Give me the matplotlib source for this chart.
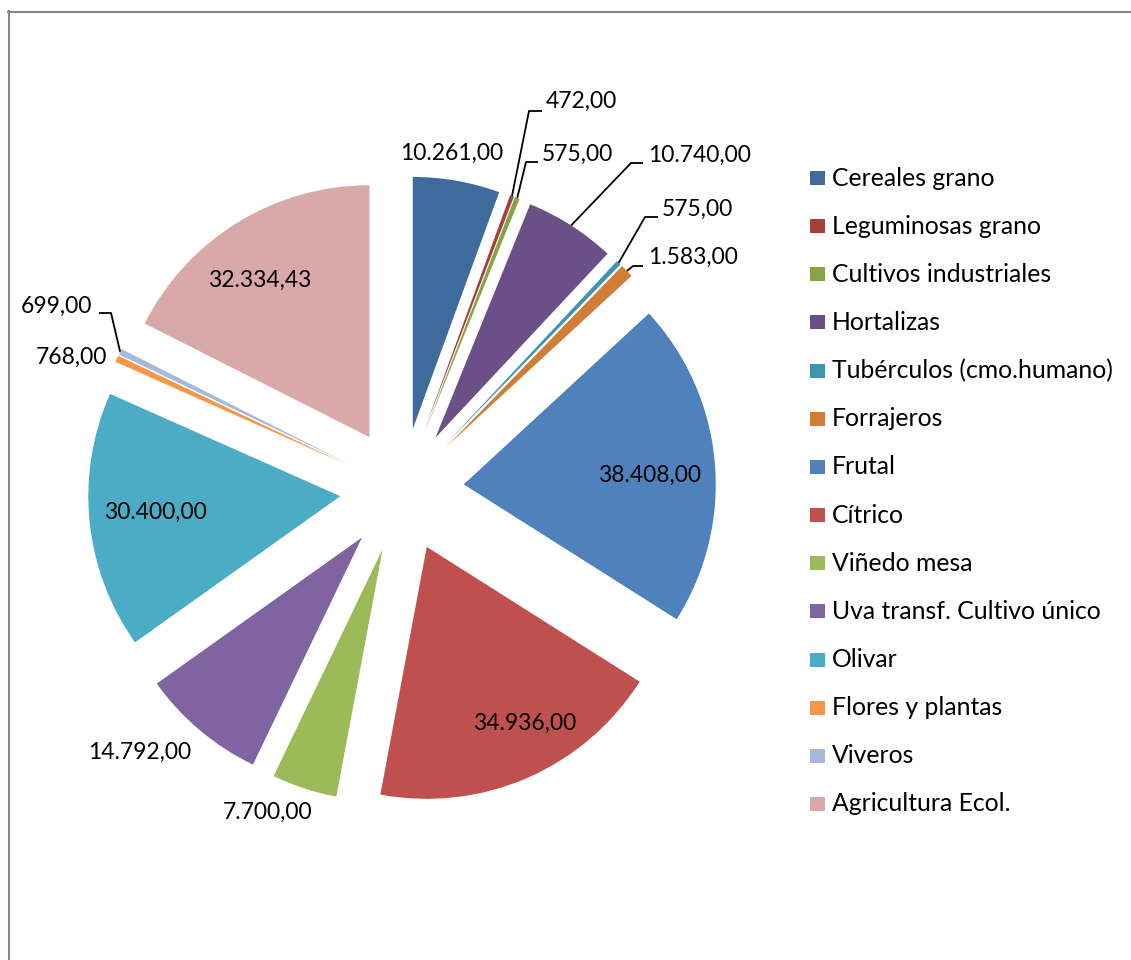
import matplotlib
matplotlib.use("Agg")
import matplotlib.pyplot as plt
from matplotlib.patches import Rectangle
from matplotlib.lines import Line2D
import numpy as np

categories = ["Cereales grano", "Leguminosas grano", "Cultivos industriales", "Hortalizas",
              "Tubérculos (cmo.humano)", "Forrajeros", "Frutal", "Cítrico", "Viñedo mesa",
              "Uva transf. Cultivo único", "Olivar", "Flores y plantas", "Viveros",
              "Agricultura Ecol."]
values = [10261.00, 472.00, 575.00, 10740.00, 575.00, 1583.00, 38408.00, 34936.00,
          7700.00, 14792.00, 30400.00, 768.00, 699.00, 32334.43]
colors = ["#3E6A9C", "#A5403D", "#85A446", "#6A5087", "#3D96AE", "#D07E36", "#4F81BD",
          "#C0504D", "#9BBB59", "#8064A2", "#4BACC6", "#F79646", "#A7B9D9", "#D9A9A9"]

W, H = 1131, 960
FONT = "Lato"
FS = 16.5
FS_LEG = 17.8

# label layout in pixels (x, y, ha), optional leader elbow points
label_layout = [
    (452, 153, "center", None),
    (546, 101, "left", [(529, 111), (542, 111)]),
    (542, 154, "left", [(526, 162), (538, 162)]),
    (648, 155, "left", [(631, 163), (643, 163)]),
    (662, 209, "left", [(645, 217), (658, 217)]),
    (648, 257, "left", [(633, 266), (643, 266)]),
    (650, 475, "center", None),
    (525, 723, "center", None),
    (268, 812, "center", None),
    (140, 752, "center", None),
    (155, 512, "center", None),
    (107, 357, "right", None),
    (92, 306, "right", [(111, 313), (99, 313)]),
    (260, 280, "center", None),
]


def fmt(v):
    s = f"{v:,.2f}"
    return s.replace(",", "X").replace(".", ",").replace("X", ".")


def px(x, y):
    return (x, H - y)


fig = plt.figure(figsize=(W / 100, H / 100), dpi=100, facecolor="white")
ax = fig.add_axes([0, 0, 1, 1])

radius = 252
center = px(402, 490)
explode = [62] * len(values)   # absolute offset in data (pixel) units
wedges, _ = ax.pie(values, colors=colors, startangle=90, counterclock=False,
                   explode=explode, radius=radius, center=center,
                   wedgeprops=dict(linewidth=0))
ax.set_xlim(0, W)
ax.set_ylim(0, H)
ax.set_aspect("auto")
ax.axis("off")

for w, v, (lx, ly, ha, elbow) in zip(wedges, values, label_layout):
    ax.text(*px(lx, ly), fmt(v), ha=ha, va="center", fontsize=FS, family=FONT, color="black")
    if elbow:
        th = np.deg2rad((w.theta1 + w.theta2) / 2)
        cx, cy = w.center
        start = (cx + w.r * np.cos(th), cy + w.r * np.sin(th))
        pts = [start] + [px(x, y) for x, y in elbow]
        xs, ys = zip(*pts)
        ax.plot(xs, ys, color="black", lw=1.3, solid_capstyle="butt")

# legend
for i, (name, c) in enumerate(zip(categories, colors)):
    y = 178 + i * 48.15
    ax.add_patch(Rectangle(px(810, y + 7), 15, 14, facecolor=c, edgecolor="none"))
    ax.text(*px(832, y), name, ha="left", va="center", fontsize=FS_LEG, family=FONT, color="black")

# chart border (left and top visible)
fig.add_artist(Line2D([8.5 / W, 8.5 / W], [0, 1 - 11 / H], transform=fig.transFigure,
                      color="#868686", lw=1.5))
fig.add_artist(Line2D([7.5 / W, 1], [1 - 11.5 / H, 1 - 11.5 / H], transform=fig.transFigure,
                      color="#868686", lw=1.5))

fig.savefig("out.png", dpi=100, facecolor="white")
